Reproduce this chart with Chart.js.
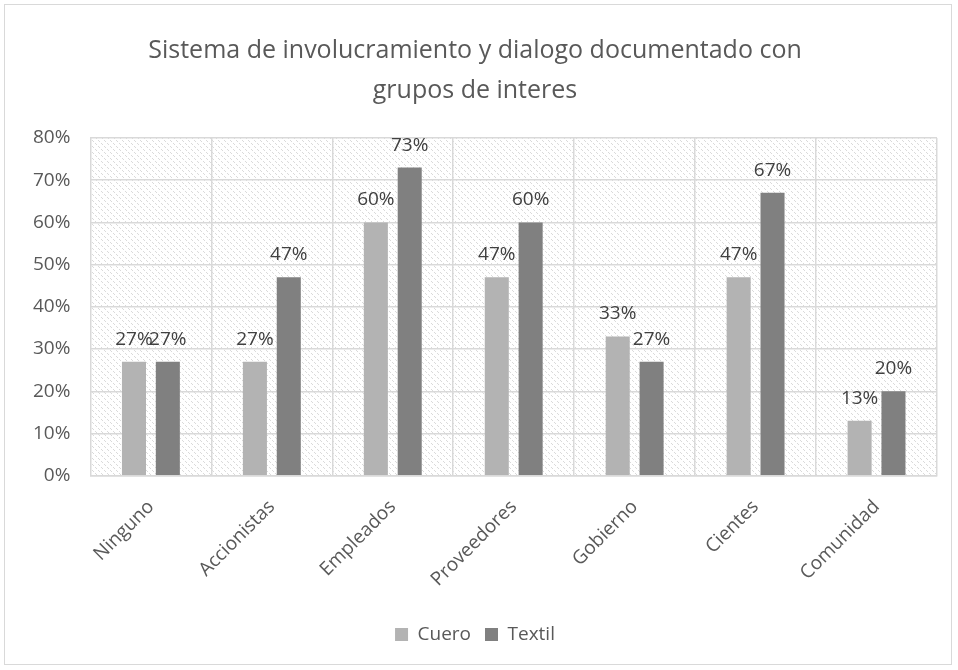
<!DOCTYPE html>
<html>
<head>
<meta charset="utf-8">
<script src="https://cdn.jsdelivr.net/npm/chart.js@4"></script>
<style>
  html, body { margin: 0; padding: 0; background: #fff; }
  #wrap { position: absolute; left: 4px; top: 4px; width: 948px; height: 661px; border: 1px solid #d9d9d9; box-sizing: border-box; }
  canvas { display: block; }
</style>
</head>
<body>
<div id="wrap"><canvas id="chart"></canvas></div>
<script>
const categories = ['Ninguno', 'Accionistas', 'Empleados', 'Proveedores', 'Gobierno', 'Cientes', 'Comunidad'];
const cuero = [27, 27, 60, 47, 33, 47, 13];
const textil = [27, 47, 73, 60, 27, 67, 20];
const yTicks = [0, 10, 20, 30, 40, 50, 60, 70, 80];

const textColor = '#595959';
const fontFamily = '"Open Sans", sans-serif';

// light "wide downward diagonal" fill behind the plot
function hatchPattern(ctx) {
  const c = document.createElement('canvas');
  c.width = 6; c.height = 6;
  const p = c.getContext('2d');
  p.fillStyle = '#fff';
  p.fillRect(0, 0, 6, 6);
  p.fillStyle = '#dadada';
  for (let i = 0; i < 6; i++) {
    if (i % 3 !== 2) p.fillRect(i, i, 1, 1);
  }
  return ctx.createPattern(c, 'repeat');
}

const hatchBg = {
  id: 'hatchBg',
  beforeDraw(chart) {
    const { ctx, chartArea: a } = chart;
    ctx.save();
    ctx.fillStyle = hatchPattern(ctx);
    ctx.fillRect(a.left, a.top, a.right - a.left, a.bottom - a.top);
    ctx.restore();
  }
};

const valueLabels = {
  id: 'valueLabels',
  afterDatasetsDraw(chart) {
    const ctx = chart.ctx;
    ctx.save();
    ctx.font = '19px ' + fontFamily;
    ctx.fillStyle = '#404040';
    ctx.textAlign = 'center';
    ctx.textBaseline = 'alphabetic';
    chart.data.datasets.forEach((ds, i) => {
      chart.getDatasetMeta(i).data.forEach((bar, j) => {
        ctx.fillText(ds.data[j] + '%', bar.x, bar.y - 17);
      });
    });
    ctx.restore();
  }
};

new Chart(document.getElementById('chart'), {
  type: 'bar',
  data: {
    labels: categories,
    datasets: [
      { label: 'Cuero', data: cuero, backgroundColor: '#b3b3b3' },
      { label: 'Textil', data: textil, backgroundColor: '#808080' }
    ]
  },
  options: {
    responsive: true,
    maintainAspectRatio: false,
    animation: false,
    categoryPercentage: 0.56,
    barPercentage: 0.71,
    layout: { padding: { left: 8, right: 14, top: 10, bottom: 10 } },
    plugins: {
      title: {
        display: true,
        text: ['Sistema de involucramiento y dialogo documentado con', 'grupos de interes'],
        color: textColor,
        font: { family: fontFamily, size: 25, weight: 'normal', lineHeight: 1.6 },
        padding: { top: 16, bottom: 27 }
      },
      legend: {
        position: 'bottom',
        labels: {
          color: textColor,
          font: { family: fontFamily, size: 19 },
          boxWidth: 13,
          boxHeight: 13,
          padding: 14
        }
      },
      tooltip: { enabled: false }
    },
    scales: {
      x: {
        grid: { color: '#d9d9d9', lineWidth: 1.5, drawTicks: false },
        border: { color: '#d9d9d9', width: 1.5 },
        ticks: {
          color: textColor,
          font: { family: fontFamily, size: 19 },
          maxRotation: 45,
          minRotation: 45,
          padding: 20
        }
      },
      y: {
        min: 0,
        max: 80,
        afterBuildTicks(axis) { axis.ticks = yTicks.map(v => ({ value: v })); },
        grid: { color: '#d9d9d9', lineWidth: 1.5, drawTicks: false },
        border: { display: false },
        ticks: {
          color: textColor,
          font: { family: fontFamily, size: 19 },
          padding: 20,
          callback: v => v + '%'
        }
      }
    }
  },
  plugins: [hatchBg, valueLabels]
});
</script>
</body>
</html>
